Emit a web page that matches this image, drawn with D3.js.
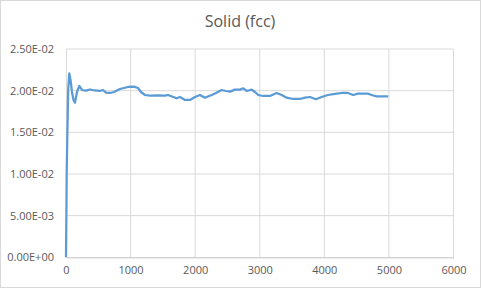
<!DOCTYPE html>
<html>
<head>
<meta charset="utf-8">
<script src="https://cdn.jsdelivr.net/npm/d3@7"></script>
<style>
  body { margin: 0; background: #fff; }
  svg { display: block; font-family: "Open Sans", "Noto Sans", sans-serif; }
</style>
</head>
<body>
<svg id="chart" width="481" height="288"></svg>
<script>
// series (step, value)
const steps = [0, 2, 8, 11, 19, 26, 34, 51, 70, 93, 116, 139, 170, 206, 248, 310, 372, 449, 526, 573,
  619, 681, 743, 836, 960, 1053, 1115, 1161, 1223, 1300, 1424, 1533, 1579, 1641, 1714, 1765, 1842, 1920,
  1997, 2074, 2152, 2255, 2322, 2410, 2477, 2539, 2616, 2693, 2745, 2797, 2875, 2926, 2977, 3050, 3158,
  3262, 3339, 3417, 3514, 3622, 3700, 3777, 3870, 3958, 4056, 4190, 4268, 4365, 4447, 4520, 4675, 4732,
  4810, 4990];
const values = [0, 0.00172, 0.00688, 0.01012, 0.01408, 0.01688, 0.02008, 0.02208, 0.02128, 0.01984,
  0.01888, 0.01856, 0.01984, 0.02056, 0.02008, 0.02000, 0.02014, 0.02002, 0.01996, 0.02008,
  0.01976, 0.01972, 0.01984, 0.02020, 0.02044, 0.02048, 0.02032, 0.01984, 0.01948, 0.01940,
  0.01942, 0.01940, 0.01948, 0.01930, 0.01908, 0.01924, 0.01888, 0.01888, 0.01924, 0.01948,
  0.01915, 0.01948, 0.01972, 0.02008, 0.01996, 0.01988, 0.02012, 0.02012, 0.02028, 0.01996,
  0.02012, 0.01984, 0.01948, 0.01936, 0.01936, 0.01972, 0.01948, 0.01916, 0.01900, 0.01900,
  0.01916, 0.01924, 0.01896, 0.01924, 0.01948, 0.01964, 0.01972, 0.01972, 0.01948, 0.01964,
  0.01964, 0.01948, 0.01932, 0.01932];
const xTicks = [0, 1000, 2000, 3000, 4000, 5000, 6000];
const yTicks = [0, 0.005, 0.01, 0.015, 0.02, 0.025];
const title = "Solid (fcc)";

const data = steps.map((s, i) => ({ x: s, y: values[i] }));

const svg = d3.select("#chart");
const width = 481, height = 288;
const margin = { top: 49, right: 27.5, bottom: 30.7, left: 66 };

svg.append("rect")
  .attr("x", 0.5).attr("y", 0.5)
  .attr("width", width - 1).attr("height", height - 1)
  .attr("fill", "#fff").attr("stroke", "#d9d9d9");

const xScale = d3.scaleLinear()
  .domain([0, 6000])
  .range([margin.left, width - margin.right]);

const yScale = d3.scaleLinear()
  .domain([0, 0.025])
  .range([height - margin.bottom, margin.top]);

// gridlines
svg.append("g")
  .attr("stroke", "#d9d9d9")
  .selectAll("line.h")
  .data(yTicks.slice(1))
  .join("line")
    .attr("x1", margin.left).attr("x2", width - margin.right)
    .attr("y1", d => yScale(d)).attr("y2", d => yScale(d));

svg.append("g")
  .attr("stroke", "#d9d9d9")
  .selectAll("line.v")
  .data(xTicks.slice(1))
  .join("line")
    .attr("x1", d => xScale(d)).attr("x2", d => xScale(d))
    .attr("y1", margin.top).attr("y2", height - margin.bottom);

// X-axis
const xAxis = svg.append("g")
  .attr("transform", `translate(0,${height - margin.bottom})`)
  .call(d3.axisBottom(xScale).tickValues(xTicks).tickSize(0).tickPadding(9).tickFormat(d3.format("d")));
xAxis.select(".domain").attr("stroke", "#bfbfbf");

// Y-axis
const yAxis = svg.append("g")
  .attr("transform", `translate(${margin.left},0)`)
  .call(d3.axisLeft(yScale).tickValues(yTicks).tickSize(0).tickPadding(12)
    .tickFormat(d => d3.format(".2e")(d).replace(/e([+-])(\d)$/, "e$10$2").toUpperCase()));
yAxis.select(".domain").attr("stroke", "#d9d9d9");

svg.selectAll(".tick text")
  .attr("fill", "#595959")
  .style("font-size", "11px")
  .style("font-family", "Open Sans, sans-serif");

// the line
svg.append("path")
  .datum(data)
  .attr("fill", "none")
  .attr("stroke", "#5b9bd5")
  .attr("stroke-width", 2.25)
  .attr("stroke-linejoin", "round")
  .attr("d", d3.line().x(d => xScale(d.x)).y(d => yScale(d.y)));

svg.append("text")
  .attr("x", 240).attr("y", 27)
  .attr("text-anchor", "middle")
  .attr("fill", "#595959")
  .style("font-size", "16px")
  .text(title);
</script>
</body>
</html>
